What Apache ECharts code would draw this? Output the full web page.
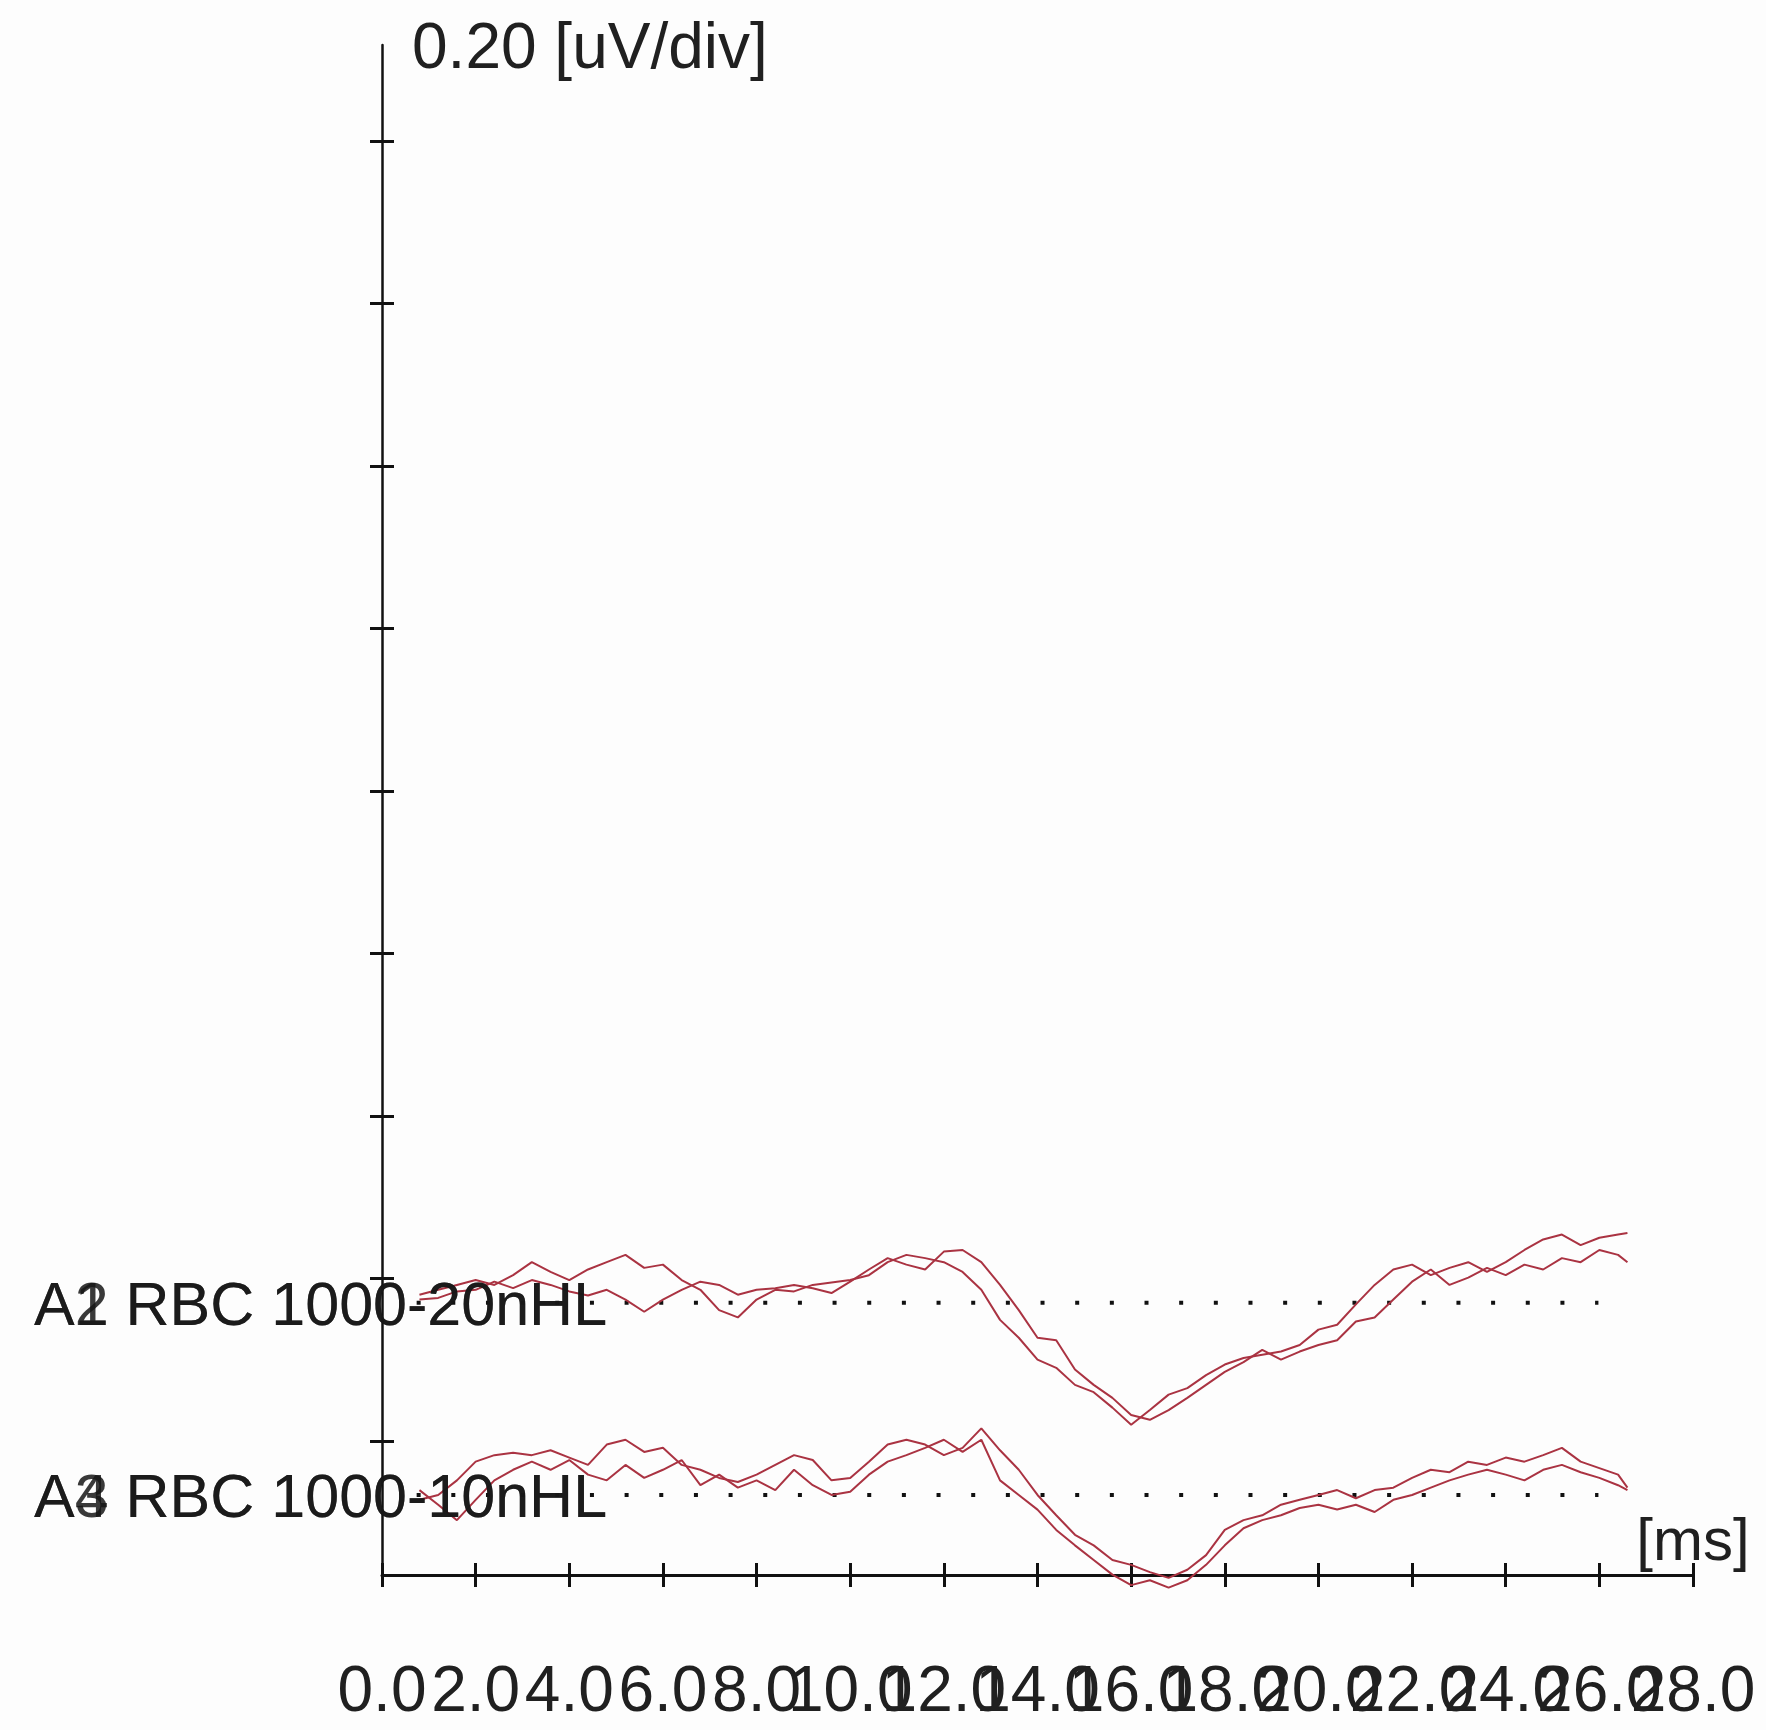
<!DOCTYPE html>
<html>
<head>
<meta charset="utf-8">
<title>RBC 1000 Hz waveforms</title>
<script src="https://cdn.jsdelivr.net/npm/echarts@6/dist/echarts.min.js"></script>
<style>
  html, body { margin: 0; padding: 0; background: #fdfdfd; }
  #chart { width: 1766px; height: 1730px; }
</style>
</head>
<body>
<div id="chart"></div>
<script>
// Sample times (ms) shared by all four recordings
const timesMs = [0.8, 1.2, 1.6, 2.0, 2.4, 2.8, 3.2, 3.6, 4.0, 4.4, 4.8, 5.2, 5.6, 6.0, 6.4, 6.8,
  7.2, 7.6, 8.0, 8.4, 8.8, 9.2, 9.6, 10.0, 10.4, 10.8, 11.2, 11.6, 12.0, 12.4, 12.8, 13.2,
  13.6, 14.0, 14.4, 14.8, 15.2, 15.6, 16.0, 16.4, 16.8, 17.2, 17.6, 18.0, 18.4, 18.8, 19.2,
  19.6, 20.0, 20.4, 20.8, 21.2, 21.6, 22.0, 22.4, 22.8, 23.2, 23.6, 24.0, 24.4, 24.8, 25.2,
  25.6, 26.0, 26.4, 26.6];

// Amplitudes (uV) relative to each channel's baseline
const a1Values = [0.010, 0.016, 0.022, 0.028, 0.022, 0.034, 0.050, 0.038, 0.028, 0.041,
  0.050, 0.059, 0.043, 0.047, 0.028, 0.016, -0.009, -0.018, 0.004, 0.016,
  0.014, 0.022, 0.025, 0.028, 0.034, 0.050, 0.059, 0.055, 0.050, 0.038,
  0.016, -0.021, -0.043, -0.070, -0.080, -0.101, -0.110, -0.129, -0.150, -0.132,
  -0.113, -0.105, -0.089, -0.076, -0.068, -0.064, -0.060, -0.052, -0.033, -0.027,
  -0.002, 0.022, 0.041, 0.047, 0.034, 0.043, 0.050, 0.038, 0.050, 0.065,
  0.078, 0.084, 0.071, 0.080, 0.084, 0.086];
const a2Values = [0.004, 0.006, 0.014, 0.016, 0.026, 0.018, 0.028, 0.022, 0.014, 0.009,
  0.016, 0.004, -0.011, 0.004, 0.016, 0.026, 0.022, 0.010, 0.016, 0.018,
  0.022, 0.018, 0.012, 0.026, 0.041, 0.055, 0.047, 0.041, 0.063, 0.065,
  0.050, 0.022, -0.009, -0.043, -0.046, -0.082, -0.101, -0.117, -0.138, -0.144,
  -0.132, -0.117, -0.101, -0.085, -0.073, -0.058, -0.070, -0.060, -0.052, -0.046,
  -0.023, -0.018, 0.004, 0.026, 0.041, 0.022, 0.031, 0.043, 0.034, 0.047,
  0.041, 0.055, 0.050, 0.065, 0.059, 0.050];
const a3Values = [-0.006, 0.000, 0.018, 0.041, 0.049, 0.052, 0.049, 0.055, 0.046, 0.037,
  0.062, 0.068, 0.053, 0.058, 0.037, 0.031, 0.021, 0.016, 0.025, 0.037,
  0.049, 0.043, 0.018, 0.021, 0.041, 0.062, 0.068, 0.062, 0.049, 0.058,
  0.082, 0.055, 0.031, 0.000, -0.025, -0.049, -0.062, -0.080, -0.086, -0.095,
  -0.102, -0.092, -0.074, -0.043, -0.031, -0.025, -0.012, -0.006, 0.000, 0.006,
  -0.004, 0.006, 0.009, 0.021, 0.031, 0.028, 0.041, 0.037, 0.046, 0.041,
  0.049, 0.058, 0.041, 0.033, 0.025, 0.009];
const a4Values = [0.006, -0.012, -0.031, -0.006, 0.018, 0.031, 0.041, 0.031, 0.043, 0.025,
  0.018, 0.037, 0.021, 0.031, 0.043, 0.012, 0.025, 0.009, 0.018, 0.006,
  0.031, 0.012, 0.000, 0.004, 0.025, 0.041, 0.049, 0.058, 0.068, 0.053,
  0.068, 0.018, 0.000, -0.018, -0.043, -0.062, -0.080, -0.098, -0.111, -0.105,
  -0.114, -0.105, -0.086, -0.062, -0.041, -0.031, -0.025, -0.016, -0.012, -0.018,
  -0.012, -0.021, -0.006, 0.000, 0.009, 0.018, 0.025, 0.031, 0.025, 0.018,
  0.031, 0.037, 0.028, 0.021, 0.012, 0.006];

// Channel labels
const channelLabels20 = ['A1 RBC 1000-20nHL', 'A2 RBC 1000-20nHL'];
const channelLabels10 = ['A3 RBC 1000-10nHL', 'A4 RBC 1000-10nHL'];

// Baseline levels (uV on the stacked display) and the span of the dotted reference lines (ms)
const baseline20 = 0.170;
const baseline10 = -0.0665;
const baselineSpanMs = [0.74, 25.98];

// Axis ranges and ticks (time labels are split in two alternating sets so none is dropped)
const timeRangeMs = [0, 28];
const timeLabelsA = [0, 4, 8, 12, 16, 20, 24, 28];
const timeLabelsB = [2, 6, 10, 14, 18, 22, 26];
const ampTicks = [0, 0.2, 0.4, 0.6, 0.8, 1.0, 1.2, 1.4, 1.6];
const ampRange = [-0.165, 1.718];
const ampUnitLabel = '0.20 [uV/div]';
const timeUnitLabel = '[ms]';

const FONT = "'Liberation Sans', Arial, sans-serif";
const TRACE_COLOR = '#aa3342';
const AXIS_COLOR = '#111';
const TEXT_COLOR = '#202020';

function trace(values, base) {
  return timesMs.map((t, i) => [t, base + values[i]]);
}

function traceSeries(name, values, base) {
  return {
    name: name,
    type: 'line',
    data: trace(values, base),
    showSymbol: false,
    clip: false,
    silent: true,
    lineStyle: { color: TRACE_COLOR, width: 2 },
    z: 3
  };
}

function baselineSeries(base) {
  return {
    type: 'line',
    data: [[baselineSpanMs[0], base], [baselineSpanMs[1], base]],
    showSymbol: false,
    silent: true,
    lineStyle: { color: '#111', width: 4, type: [4, 30.66], cap: 'butt' },
    z: 2
  };
}

const chart = echarts.init(document.getElementById('chart'), null, { renderer: 'canvas' });

const timeLabelStyle = {
  show: true, margin: 86, fontFamily: FONT, fontSize: 64, color: TEXT_COLOR,
  showMinLabel: true, showMaxLabel: true, hideOverlap: false,
  formatter: v => v.toFixed(1)
};

const xCommon = {
  type: 'value',
  min: timeRangeMs[0],
  max: timeRangeMs[1],
  interval: 2,
  position: 'bottom',
  splitLine: { show: false }
};
const yCommon = {
  type: 'value',
  min: ampRange[0],
  max: ampRange[1],
  position: 'left',
  splitLine: { show: false },
  axisLabel: { show: false }
};

const option = {
  backgroundColor: '#fdfdfd',
  animation: false,
  grid: { left: 382, right: 73, top: 45, bottom: 155, containLabel: false, outerBoundsMode: 'none' },
  xAxis: [
    Object.assign({}, xCommon, {
      name: timeUnitLabel,
      nameLocation: 'end',
      nameGap: 0,
      nameTextStyle: {
        fontFamily: FONT, fontSize: 60, color: TEXT_COLOR,
        align: 'center', verticalAlign: 'bottom', padding: [0, 0, 2, 0]
      },
      axisLine: { show: true, onZero: false, lineStyle: { color: AXIS_COLOR, width: 3 } },
      axisTick: { show: true, inside: false, length: 12, lineStyle: { color: AXIS_COLOR, width: 3 } },
      axisLabel: Object.assign({ customValues: timeLabelsA }, timeLabelStyle)
    }),
    Object.assign({}, xCommon, {
      axisLine: { show: false, onZero: false },
      axisTick: { show: true, inside: true, length: 12, lineStyle: { color: AXIS_COLOR, width: 3 } },
      axisLabel: Object.assign({ customValues: timeLabelsB }, timeLabelStyle)
    })
  ],
  yAxis: [
    Object.assign({}, yCommon, {
      name: ampUnitLabel,
      nameLocation: 'end',
      nameGap: -5,
      nameTextStyle: {
        fontFamily: FONT, fontSize: 64, color: TEXT_COLOR,
        align: 'left', verticalAlign: 'middle', padding: [0, 0, 0, 30]
      },
      axisLine: { show: true, onZero: false, lineStyle: { color: AXIS_COLOR, width: 2.5 } },
      axisTick: { show: true, inside: false, length: 12, customValues: ampTicks, lineStyle: { color: AXIS_COLOR, width: 3 } }
    }),
    Object.assign({}, yCommon, {
      axisLine: { show: false, onZero: false },
      axisTick: { show: true, inside: true, length: 12, customValues: ampTicks, lineStyle: { color: AXIS_COLOR, width: 3 } }
    })
  ],
  series: [
    baselineSeries(baseline20),
    baselineSeries(baseline10),
    traceSeries(channelLabels20[0], a1Values, baseline20),
    traceSeries(channelLabels20[1], a2Values, baseline20),
    traceSeries(channelLabels10[0], a3Values, baseline10),
    traceSeries(channelLabels10[1], a4Values, baseline10)
  ]
};

chart.setOption(option);

// Channel names sit left of the axis, centred on each baseline
function channelText(text, base) {
  const y = chart.convertToPixel({ yAxisIndex: 0 }, base);
  return {
    type: 'text',
    left: 34,
    top: y - 25,
    z: 10,
    style: {
      text: text,
      fontFamily: FONT,
      fontSize: 61,
      fill: '#161616',
      opacity: 0.85
    }
  };
}

chart.setOption({
  graphic: [
    channelText(channelLabels20[0], baseline20),
    channelText(channelLabels20[1], baseline20),
    channelText(channelLabels10[0], baseline10),
    channelText(channelLabels10[1], baseline10)
  ]
});
</script>
</body>
</html>
